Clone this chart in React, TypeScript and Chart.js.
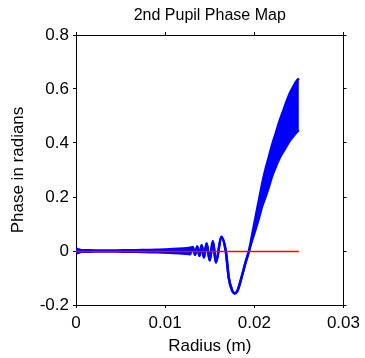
import React, { useEffect, useRef } from "react";
import { Chart, registerables } from "chart.js";

Chart.register(...registerables);

// Radius samples (m)
const radius = [
  0, 0.0002, 0.0006, 0.0015, 0.003, 0.0045, 0.006, 0.0075, 0.009, 0.0105, 0.012, 0.0128,
  0.0131, 0.01335, 0.0136, 0.01385, 0.0141, 0.01435, 0.01465, 0.015, 0.01535, 0.0157,
  0.0163, 0.0168, 0.01714, 0.0175, 0.0178, 0.0181, 0.01855, 0.019, 0.0194,
  0.0197, 0.02, 0.0203, 0.0206, 0.0209, 0.0212, 0.0216, 0.022, 0.0224, 0.0228,
  0.0232, 0.0236, 0.024, 0.0244, 0.0248, 0.025,
];
// Upper envelope of the phase trace (radians)
const upperPhase = [
  0.009, 0.007, 0.003, 0.0025, 0.002, 0.0022, 0.003, 0.0035, 0.0045, 0.0065, 0.009, 0.012,
  0.014, -0.014, 0.017, -0.018, 0.021, -0.024, 0.028, -0.035, 0.036, -0.043,
  0.053, 0.0, -0.1, -0.145, -0.157, -0.148, -0.1, -0.045, 0.0,
  0.05, 0.101, 0.152, 0.202, 0.252, 0.295, 0.344, 0.393, 0.435, 0.478,
  0.515, 0.552, 0.585, 0.61, 0.632, 0.639,
];
// Lower envelope of the phase trace (radians)
const lowerPhase = [
  -0.009, -0.007, -0.003, -0.0025, -0.002, -0.0022, -0.003, -0.0035, -0.0045, -0.0065, -0.009, -0.012,
  0.014, -0.014, 0.017, -0.018, 0.021, -0.024, 0.028, -0.035, 0.036, -0.043,
  0.053, 0.0, -0.1, -0.145, -0.157, -0.148, -0.1, -0.045, 0.0,
  0.034, 0.065, 0.098, 0.132, 0.168, 0.195, 0.234, 0.277, 0.311, 0.342,
  0.365, 0.388, 0.409, 0.426, 0.442, 0.447,
];
// Zero reference line
const refRadius = [0, 0.025];
const refPhase = [0, 0];

const xTicks = [0, 0.01, 0.02, 0.03];
const yTicks = [-0.2, 0, 0.2, 0.4, 0.6, 0.8];

const FONT = "'Liberation Sans', Arial, Helvetica, sans-serif";

// keeps the thin reference line on a whole pixel row so it stays crisp
const crispPlugin = {
  id: "crispRef",
  beforeDatasetDraw(chart: any, args: any) {
    if (args.index === 0) {
      chart.ctx.save();
      chart.ctx.translate(0, 0.5);
    }
  },
  afterDatasetDraw(chart: any, args: any) {
    if (args.index === 0) chart.ctx.restore();
  },
};

export default function App() {
  const ref = useRef<HTMLCanvasElement>(null);

  useEffect(() => {
    const grid = {
      display: true,
      drawOnChartArea: false,
      drawTicks: true,
      tickLength: 3,
      color: "#000",
      lineWidth: 1,
    };
    const border = { display: true, color: "#000", width: 1 };
    const tickFont = { family: FONT, size: 17 };
    const setX = (s: any) => {
      s.ticks = xTicks.map((v) => ({ value: v }));
    };
    const setY = (s: any) => {
      s.ticks = yTicks.map((v) => ({ value: v }));
    };

    const chart = new Chart(ref.current as HTMLCanvasElement, {
      type: "line",
      data: {
        datasets: [
          {
            data: refRadius.map((x, i) => ({ x, y: refPhase[i] })),
            borderColor: "#ff0000",
            borderWidth: 1.4,
            pointRadius: 0,
            fill: false,
          },
          {
            data: radius.map((x, i) => ({ x, y: upperPhase[i] })),
            borderColor: "#0000ff",
            backgroundColor: "#0000ff",
            borderWidth: 2.5,
            pointRadius: 0,
            fill: false,
            cubicInterpolationMode: "monotone",
          },
          {
            data: radius.map((x, i) => ({ x, y: lowerPhase[i] })),
            borderColor: "#0000ff",
            backgroundColor: "#0000ff",
            borderWidth: 2.5,
            pointRadius: 0,
            fill: "-1",
            cubicInterpolationMode: "monotone",
          },
        ],
      } as any,
      options: {
        responsive: false,
        animation: false,
        events: [],
        layout: { padding: 0 },
        plugins: {
          legend: { display: false },
          tooltip: { enabled: false },
          title: { display: false },
        },
        scales: {
          x: {
            type: "linear",
            position: "bottom",
            min: 0,
            max: 0.03,
            afterBuildTicks: setX,
            ticks: {
              font: tickFont,
              color: "#000",
              padding: 5,
              maxRotation: 0,
              callback: (v: any) => String(Math.round(Number(v) * 100) / 100),
            },
            grid,
            border,
            title: {
              display: true,
              text: "Radius (m)",
              color: "#000",
              font: { family: FONT, size: 17 },
              padding: { top: 0, bottom: 1 },
            },
            afterFit: (s: any) => {
              s.height = 53;
            },
          },
          x2: {
            type: "linear",
            position: "top",
            min: 0,
            max: 0.03,
            afterBuildTicks: setX,
            ticks: { display: false },
            grid,
            border,
            title: {
              display: true,
              text: "2nd Pupil Phase Map",
              color: "#000",
              font: { family: FONT, size: 16 },
              padding: { top: 6, bottom: 0 },
            },
            afterFit: (s: any) => {
              s.height = 35;
            },
          },
          y: {
            type: "linear",
            position: "left",
            min: -0.2,
            max: 0.8,
            afterBuildTicks: setY,
            ticks: {
              font: tickFont,
              color: "#000",
              padding: 4,
              callback: (v: any) => String(Math.round(Number(v) * 10) / 10),
            },
            grid,
            border,
            title: {
              display: true,
              text: "Phase in radians",
              color: "#000",
              font: { family: FONT, size: 17 },
              padding: { top: 8, bottom: 0 },
            },
            afterFit: (s: any) => {
              s.width = 76;
            },
          },
          y2: {
            type: "linear",
            position: "right",
            min: -0.2,
            max: 0.8,
            afterBuildTicks: setY,
            ticks: { display: false },
            grid,
            border,
            afterFit: (s: any) => {
              s.width = 18;
            },
          },
        },
      } as any,
      plugins: [crispPlugin],
    });
    return () => chart.destroy();
  }, []);

  return (
    <div
      style={{
        position: "fixed",
        left: 0,
        top: 0,
        width: 365,
        height: 358,
        background: "#fff",
      }}
    >
      <canvas ref={ref} width={365} height={358} style={{ display: "block" }} />
    </div>
  );
}
